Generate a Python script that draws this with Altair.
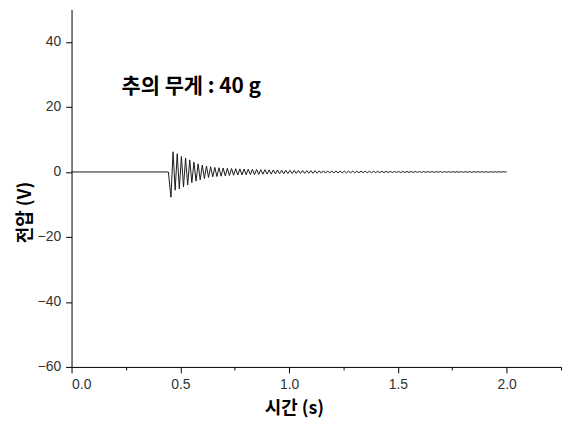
import altair as alt
import pandas as pd

# Signal: flat baseline, a sharp dip at ~0.457 s,
# then a decaying oscillation (~52 Hz) that fades out by ~2.0 s.
lead_t = [0.0, 0.445]
lead_v = [0.0, 0.0]
ext_start = 0.457      # time of the first extremum (s)
half_period = 0.0096   # spacing between successive extrema (s)
ext = [
    -7.8, 6.2, -5.6, 5.6, -5.2, 4.8, -4.6, 4.3, -4.0, 3.7,
    -3.3, 3.0, -2.8, 2.5, -2.4, 2.1, -2.0, 1.8, -1.7, 1.6,
    -1.5, 1.4, -1.4, 1.3, -1.3, 1.2, -1.2, 1.1, -1.1, 1.05,
    -1.0, 1.0, -0.95, 0.95, -0.9, 0.9, -0.85, 0.85, -0.8, 0.8,
    -0.8, 0.75, -0.75, 0.7, -0.7, 0.7, -0.65, 0.65, -0.65, 0.6,
    -0.6, 0.6, -0.55, 0.55, -0.55, 0.5, -0.5, 0.5, -0.5, 0.48,
    -0.47, 0.46, -0.45, 0.44, -0.43, 0.42, -0.41, 0.4, -0.4, 0.39,
    -0.38, 0.37, -0.36, 0.36, -0.35, 0.34, -0.34, 0.33, -0.32, 0.32,
    -0.31, 0.3, -0.3, 0.29, -0.28, 0.28, -0.27, 0.27, -0.26, 0.26,
    -0.25, 0.25, -0.24, 0.24, -0.23, 0.23, -0.22, 0.22, -0.21, 0.21,
    -0.2, 0.2, -0.2, 0.19, -0.19, 0.18, -0.18, 0.18, -0.17, 0.17,
    -0.17, 0.16, -0.16, 0.16, -0.15, 0.15, -0.15, 0.14, -0.14, 0.14,
    -0.14, 0.13, -0.13, 0.13, -0.12, 0.12, -0.12, 0.12, -0.11, 0.11,
    -0.11, 0.11, -0.1, 0.1, -0.1, 0.1, -0.1, 0.09, -0.09, 0.09,
    -0.09, 0.09, -0.08, 0.08, -0.08, 0.08, -0.08, 0.08, -0.07, 0.07,
    -0.07, 0.07, -0.07, 0.07, -0.06, 0.06, -0.06, 0.06, -0.06, 0.06,
]
tail_t = [1.995, 2.0]
tail_v = [0.0, 0.0]

x_ticks = [0.0, 0.25, 0.5, 0.75, 1.0, 1.25, 1.5, 1.75, 2.0, 2.25]
y_ticks = [-60, -50, -40, -30, -20, -10, 0, 10, 20, 30, 40, 50]
annotation = "추의 무게 : 40 g"

ext_t = [ext_start + i * half_period for i in range(len(ext))]
df = pd.DataFrame({
    "t": lead_t + ext_t + tail_t,
    "v": lead_v + ext + tail_v,
})
df["order"] = range(len(df))

x_scale = alt.Scale(domain=[0, 2.25], nice=False, zero=False)
y_scale = alt.Scale(domain=[-60, 50], nice=False, zero=False)

x_axis = alt.Axis(
    values=x_ticks,
    labelExpr="(datum.value * 4) % 2 == 0 ? datum.label : ''",
    format=".1f",
    tickSize={"condition": {"test": "(datum.value * 4) % 2 == 0", "value": 6}, "value": 3},
    labelPadding=5,
    title="시간 (s)",
    titleX=224,
    titleY=42,
    titleBaseline="middle",
)
y_axis = alt.Axis(
    values=y_ticks,
    labelExpr="datum.value % 20 == 0 ? datum.label : ''",
    tickSize={"condition": {"test": "datum.value % 20 == 0", "value": 6}, "value": 3},
    labelPadding=5,
    title="전압 (V)",
    titleX=-46,
    titleY=204,
    titleBaseline="middle",
)

line = alt.Chart(df).mark_line(color="#1a1a1a", strokeWidth=1).encode(
    x=alt.X("t:Q", scale=x_scale, axis=x_axis),
    y=alt.Y("v:Q", scale=y_scale, axis=y_axis),
    order="order:Q",
)

text = alt.Chart(pd.DataFrame({"t": [0.23], "v": [26.0], "label": [annotation]})).mark_text(
    align="left", baseline="middle", font="Noto Sans CJK KR", fontSize=21,
    fontWeight="bold", color="#000000",
).encode(
    x=alt.X("t:Q", scale=x_scale),
    y=alt.Y("v:Q", scale=y_scale),
    text="label:N",
)

chart = (line + text).properties(
    width=493,
    height=360,
    autosize=alt.AutoSizeParams(type="none"),
    padding={"left": 64, "top": 0, "right": 5, "bottom": 58},
).configure_view(stroke=None).configure_axis(
    grid=False,
    domainColor="#000000",
    domainWidth=1,
    tickColor="#000000",
    tickWidth=1,
    labelColor="#333333",
    labelFont="Liberation Sans",
    labelFontSize=14,
    titleFont="Noto Sans CJK KR",
    titleFontSize=18,
    titleFontWeight="bold",
    titleColor="#000000",
)

chart.save("out.html", embed_options={"renderer": "svg", "actions": False})
